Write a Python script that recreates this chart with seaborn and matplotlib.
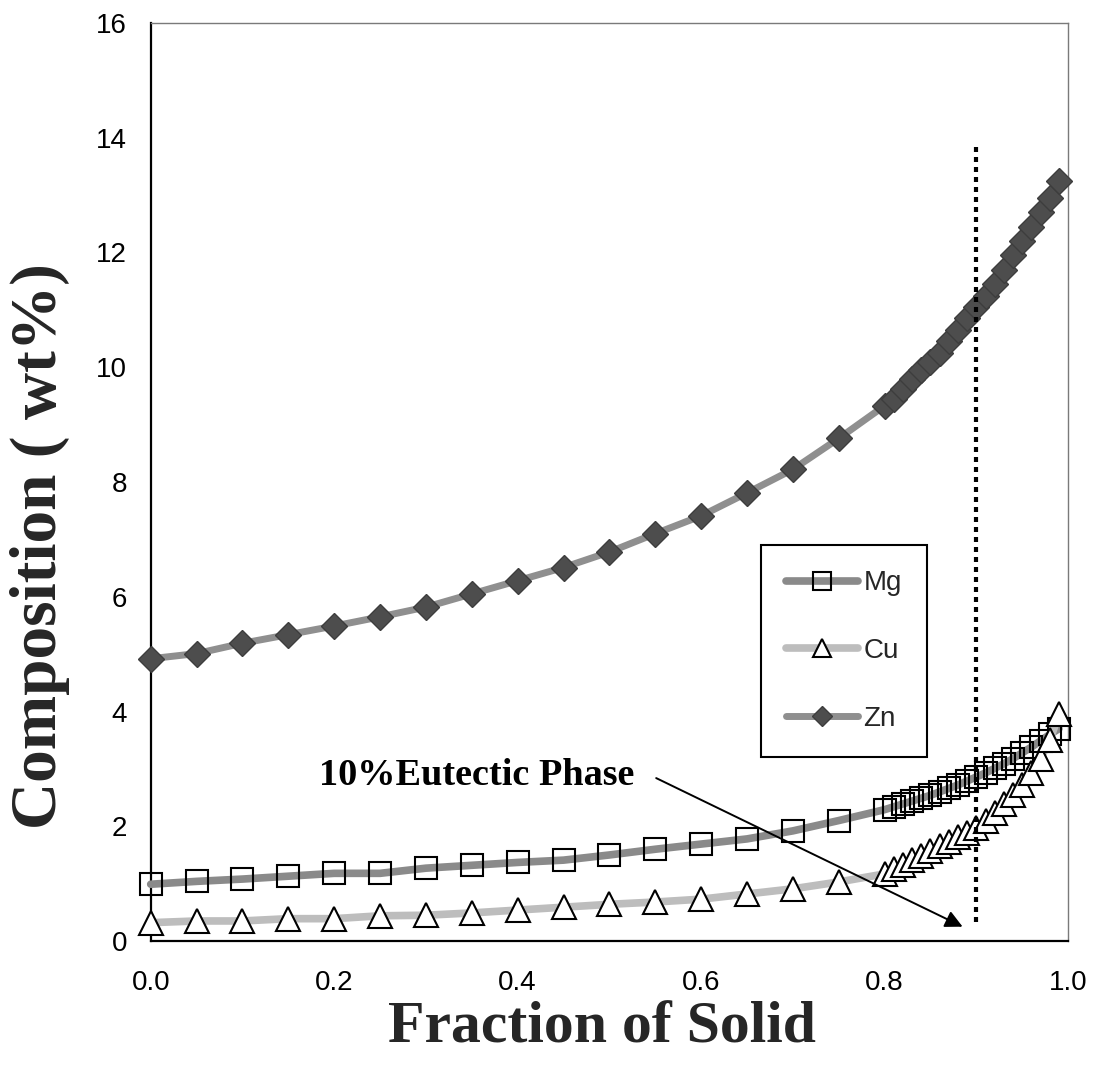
import numpy as np
import pandas as pd
import matplotlib
matplotlib.use("Agg")
import matplotlib.pyplot as plt
import seaborn as sns

# ---------------- data ----------------
fs_coarse = [0.00, 0.05, 0.10, 0.15, 0.20, 0.25, 0.30, 0.35,
             0.40, 0.45, 0.50, 0.55, 0.60, 0.65, 0.70, 0.75]
fs_fine = [0.80, 0.81, 0.82, 0.83, 0.84, 0.85, 0.86, 0.87, 0.88, 0.89,
           0.90, 0.91, 0.92, 0.93, 0.94, 0.95, 0.96, 0.97, 0.98, 0.99]

mg_coarse = [0.99, 1.04, 1.08, 1.13, 1.18, 1.18, 1.27, 1.32,
             1.37, 1.41, 1.50, 1.60, 1.69, 1.78, 1.92, 2.10]
cu_coarse = [0.32, 0.35, 0.35, 0.39, 0.39, 0.44, 0.45, 0.49,
             0.54, 0.59, 0.64, 0.68, 0.73, 0.82, 0.91, 1.03]
zn_coarse = [4.92, 5.01, 5.19, 5.34, 5.49, 5.65, 5.82, 6.05,
             6.28, 6.51, 6.78, 7.10, 7.41, 7.81, 8.22, 8.76]

mg_fine = [2.29, 2.34, 2.39, 2.44, 2.49, 2.54, 2.60, 2.66, 2.72, 2.79,
           2.86, 2.93, 3.01, 3.09, 3.18, 3.28, 3.38, 3.49, 3.60, 3.70]
cu_fine = [1.17, 1.25, 1.33, 1.41, 1.49, 1.57, 1.65, 1.73, 1.81, 1.89,
           1.97, 2.10, 2.23, 2.38, 2.54, 2.72, 2.92, 3.18, 3.50, 3.95]
zn_fine = [9.33, 9.45, 9.62, 9.80, 9.95, 10.10, 10.25, 10.45, 10.65, 10.85,
           11.05, 11.25, 11.45, 11.70, 11.95, 12.20, 12.45, 12.70, 12.95, 13.25]

x_ticks = [0.0, 0.2, 0.4, 0.6, 0.8, 1.0]
x_ticklabels = ["0.0", "0.2", "0.4", "0.6", "0.8", "1.0"]
y_ticks = [0, 2, 4, 6, 8, 10, 12, 14, 16]

eutectic_fs = 0.9
eutectic_line_y = [0.34, 13.9]
arrow_tip = (0.885, 0.25)
arrow_start = (0.551, 2.84)
annot_text = "10%Eutectic Phase"
annot_pos = (0.183, 2.72)

df = pd.DataFrame({
    "fs": fs_coarse + fs_fine,
    "Mg": mg_coarse + mg_fine,
    "Cu": cu_coarse + cu_fine,
    "Zn": zn_coarse + zn_fine,
})

# ---------------- figure ----------------
sns.set_theme(style="white")
plt.rcParams["font.family"] = ["Liberation Sans", "DejaVu Sans"]

fig = plt.figure(figsize=(11, 10.69), dpi=100)
ax = fig.add_axes([0.137, 0.1197, 0.834, 0.8588])

sns.lineplot(data=df, x="fs", y="Zn", ax=ax, color="#8f8f8f", lw=5,
             marker="D", markersize=13, mfc="#4d4d4d", mec="#3d3d3d", mew=1,
             label="Zn", zorder=3, clip_on=False)
sns.lineplot(data=df, x="fs", y="Mg", ax=ax, color="#8a8a8a", lw=5.5,
             marker="s", markersize=16, mfc="none", mec="black", mew=1.5,
             label="Mg", zorder=4, clip_on=False)
sns.lineplot(data=df, x="fs", y="Cu", ax=ax, color="#bdbdbd", lw=5.5,
             marker="^", markersize=17, mfc="white", mec="black", mew=1.5,
             label="Cu", zorder=5, clip_on=False)

# eutectic marker line
ax.plot([eutectic_fs, eutectic_fs], eutectic_line_y, color="black", lw=3,
        linestyle=(0, (1.2, 1.2)), zorder=6)

# annotation
ax.text(annot_pos[0], annot_pos[1], annot_text, family="Liberation Serif",
        fontweight="bold", fontsize=27.5, ha="left", va="baseline", color="black")
ax.annotate("", xy=arrow_tip, xytext=arrow_start,
            arrowprops=dict(arrowstyle="-|>", color="black", lw=1.4,
                            mutation_scale=26, shrinkA=0, shrinkB=0),
            zorder=7)

ax.set_xlim(0, 1.0)
ax.set_ylim(0, 16)
ax.set_xticks(x_ticks)
ax.set_xticklabels(x_ticklabels)
ax.set_yticks(y_ticks)
ax.tick_params(axis="both", which="major", direction="out", colors="black",
               labelsize=20, width=1.5)
ax.tick_params(axis="x", length=9, pad=12)
ax.tick_params(axis="y", length=7, pad=10)

for side in ["left", "bottom"]:
    ax.spines[side].set_color("black")
    ax.spines[side].set_linewidth(1.6)
for side in ["top", "right"]:
    ax.spines[side].set_color("#7a7a7a")
    ax.spines[side].set_linewidth(1.0)

ax.set_xlabel("Fraction of Solid", family="Liberation Serif",
              fontweight="bold", fontsize=43)
ax.xaxis.set_label_coords(0.492, -0.066)
ax.set_ylabel("Composition ( wt%)", family="Liberation Serif",
              fontweight="bold", fontsize=47)
ax.yaxis.set_label_coords(-0.088, 0.43)

handles, labels = ax.get_legend_handles_labels()
order = [labels.index(n) for n in ["Mg", "Cu", "Zn"]]
leg = ax.legend([handles[i] for i in order], [labels[i] for i in order],
                loc="upper left", bbox_to_anchor=(0.665, 0.431),
                frameon=True, fancybox=False, framealpha=1,
                edgecolor="black", fontsize=20, handlelength=2.6,
                handletextpad=0.2, labelspacing=1.5, borderpad=0.9,
                borderaxespad=0, markerscale=0.8)
leg.get_frame().set_linewidth(1.5)

fig.savefig("out.png", dpi=100, facecolor="white")
